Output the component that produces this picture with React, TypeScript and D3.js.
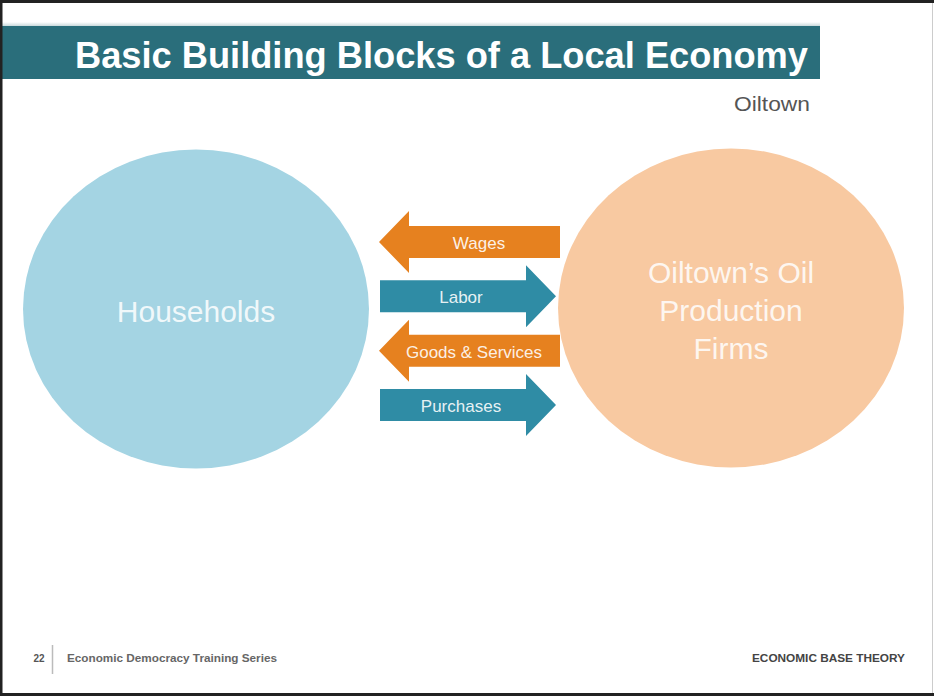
import React from "react";
import * as d3 from "d3";

const W = 934;
const H = 696;

const title = "Basic Building Blocks of a Local Economy";
const subtitle = "Oiltown";
const nodeNames = ["Households", "Oiltown's Oil Production Firms"];
const nodeLines = [["Households"], ["Oiltown\u2019s Oil", "Production", "Firms"]];
const nodeSide = [0, 1];
const flowLabels = ["Wages", "Labor", "Goods & Services", "Purchases"];
const flowDirection = ["left", "right", "left", "right"];
const flowKind = ["money", "goods", "money", "goods"];
const footerLeftNumber = "22";
const footerLeftText = "Economic Democracy Training Series";
const footerRightText = "ECONOMIC BASE THEORY";

const nodeColor = d3.scaleOrdinal<number, string>().domain([0, 1]).range(["#a4d4e3", "#f8c9a1"]);
const flowColor = d3.scaleOrdinal<string, string>().domain(["money", "goods"]).range(["#e6811f", "#2f8ca5"]);

export default function App() {
  const xNode = d3.scalePoint<number>().domain(nodeSide).range([196, 731]);
  const yRow = d3.scalePoint<string>().domain(flowLabels).range([242, 405]);
  const xArrow = d3.scaleLinear().domain([0, 1]).range([379, 556]);

  const arrowPath = (dir: string, cy: number) => {
    const bh = 16;
    const hh = 31;
    const headLen = 30;
    const x0 = xArrow(0);
    const x1 = xArrow(1);
    const p = d3.path();
    if (dir === "left") {
      const bodyEnd = x1 + 4;
      p.moveTo(x0, cy);
      p.lineTo(x0 + headLen, cy - hh);
      p.lineTo(x0 + headLen, cy - bh);
      p.lineTo(bodyEnd, cy - bh);
      p.lineTo(bodyEnd, cy + bh);
      p.lineTo(x0 + headLen, cy + bh);
      p.lineTo(x0 + headLen, cy + hh);
      p.closePath();
    } else {
      const start = x0 + 1;
      p.moveTo(x1, cy);
      p.lineTo(x1 - headLen, cy - hh);
      p.lineTo(x1 - headLen, cy - bh);
      p.lineTo(start, cy - bh);
      p.lineTo(start, cy + bh);
      p.lineTo(x1 - headLen, cy + bh);
      p.lineTo(x1 - headLen, cy + hh);
      p.closePath();
    }
    return p.toString();
  };

  const labelX = (i: number) => (flowDirection[i] === "left" ? (i === 0 ? 479 : 474) : 461);

  return (
    <div style={{ position: "absolute", left: 0, top: 0, width: W, height: H }}>
      <svg width={W} height={H} style={{ display: "block" }} fontFamily="'Liberation Sans', Arial, sans-serif">
        <defs>
          <linearGradient id="shadowTop" x1="0" y1="0" x2="0" y2="1">
            <stop offset="0" stopColor="#ffffff" />
            <stop offset="1" stopColor="#c9d9dc" />
          </linearGradient>
        </defs>
        <rect x={0} y={0} width={W} height={H} fill="#ffffff" />
        {/* title bar */}
        <rect x={0} y={22} width={820} height={4} fill="url(#shadowTop)" />
        <rect x={0} y={26} width={820} height={53} fill="#2a6e7b" />
        <text x={808} y={68} textAnchor="end" fontSize={37} fontWeight="bold" fill="#ffffff" textLength={733} lengthAdjust="spacingAndGlyphs">
          {title}
        </text>
        <text x={810} y={111} textAnchor="end" fontSize={21} fill="#555555" textLength={76} lengthAdjust="spacingAndGlyphs">
          {subtitle}
        </text>

        {/* nodes */}
        {nodeNames.map((name, i) => {
          const cx = xNode(i) as number;
          const lines = nodeLines[i];
          const lh = 38;
          const cy = i === 0 ? 309 : 308;
          const baseMid = i === 0 ? 322 : 321;
          return (
            <g key={name}>
              <ellipse cx={cx} cy={cy} rx={173} ry={159.5} fill={nodeColor(i)} />
              {lines.map((ln, j) => (
                <text
                  key={ln}
                  x={cx}
                  y={baseMid + (j - (lines.length - 1) / 2) * lh}
                  textAnchor="middle"
                  fontSize={30}
                  fill="#ffffff"
                  fillOpacity={0.85}
                >
                  {ln}
                </text>
              ))}
            </g>
          );
        })}

        {/* flows */}
        {flowLabels.map((lab, i) => {
          const cy = yRow(lab) as number;
          const dir = flowDirection[i];
          return (
            <g key={lab}>
              <path d={arrowPath(dir, cy)} fill={flowColor(flowKind[i])} />
              <text x={labelX(i)} y={cy + 7} textAnchor="middle" fontSize={17} fill="#ffffff" fillOpacity={0.9}>
                {lab}
              </text>
            </g>
          );
        })}

        {/* footer */}
        <text x={39} y={662} textAnchor="middle" fontSize={10} fontWeight="bold" fill="#555555">
          {footerLeftNumber}
        </text>
        <line x1={52.5} x2={52.5} y1={645} y2={674} stroke="#bbbbbb" strokeWidth={1.5} />
        <text x={67} y={662} fontSize={10} fontWeight="bold" fill="#666666" textLength={210} lengthAdjust="spacingAndGlyphs">
          {footerLeftText}
        </text>
        <text x={905} y={662} textAnchor="end" fontSize={10.5} fontWeight="bold" fill="#444444" textLength={153} lengthAdjust="spacingAndGlyphs">
          {footerRightText}
        </text>

        {/* frame */}
        <rect x={0} y={0} width={W} height={3} fill="#222222" />
        <rect x={0} y={0} width={2.5} height={H} fill="#222222" />
        <rect x={0} y={693} width={W} height={3} fill="#222222" />
        <rect x={932} y={3} width={1} height={690} fill="#cccccc" />
      </svg>
    </div>
  );
}
